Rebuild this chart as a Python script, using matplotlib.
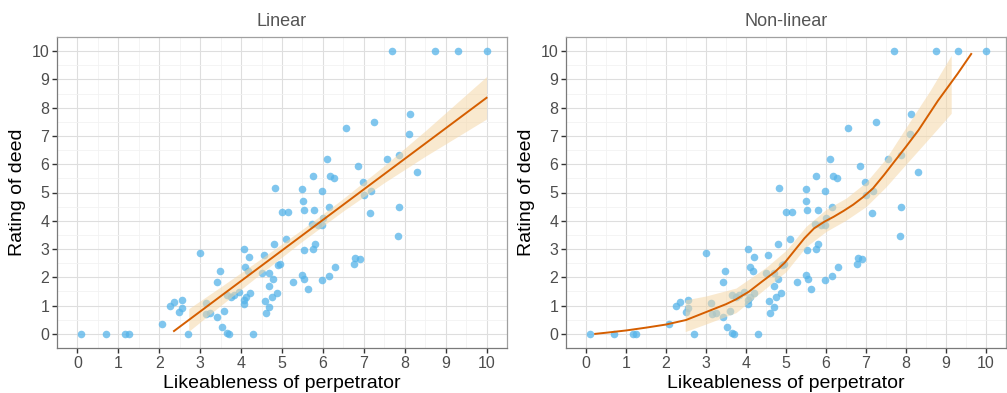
import matplotlib
matplotlib.use('Agg')
import matplotlib.pyplot as plt
from matplotlib.ticker import MultipleLocator

plt.rcParams['font.family'] = ['Liberation Sans', 'DejaVu Sans']

# points (same data in both panels)
like = [0.09, 0.69, 1.17, 1.25, 2.07, 2.25, 2.35, 2.56, 2.49, 2.56, 2.71, 3.0, 3.13, 3.15,
        3.25, 3.42, 3.48, 3.42, 3.53, 3.59, 3.66, 3.7, 3.65, 3.75, 3.83, 3.94, 4.06, 4.19,
        4.09, 4.17, 4.21, 4.11, 4.06, 4.06, 4.3, 4.5, 4.55, 4.58, 4.61, 4.69, 4.69, 4.69,
        4.76, 4.79, 4.87, 4.82, 4.8, 4.89, 4.94, 5.0, 5.15, 5.1,
        7.69, 8.75, 9.29, 10.0, 8.13, 8.1, 7.26, 6.56, 6.1, 7.56, 7.87, 8.29, 6.86, 5.76,
        6.18, 6.27, 6.98, 7.01, 7.18, 5.5, 5.98, 5.51, 5.53, 5.79, 6.14, 7.16, 7.87, 6.01,
        5.73, 5.87, 5.98, 7.84, 5.81, 5.53, 5.76, 6.79, 6.91, 6.77, 6.3, 5.5, 5.54, 5.28,
        5.98, 6.14, 5.63]
rating = [0, 0, 0, 0, 0.35, 0.99, 1.14, 1.2, 0.78, 0.92, 0, 2.85, 1.1, 0.7,
          0.73, 0.59, 2.24, 1.84, 0.23, 0.8, 0.02, 0, 1.36, 1.29, 1.36, 1.48, 3.01, 2.73,
          2.38, 2.21, 1.44, 1.32, 1.06, 1.2, 0, 2.14, 2.78, 1.18, 0.73, 0.96, 1.7, 2.17,
          1.32, 1.93, 1.44, 5.16, 3.18, 2.43, 2.47, 4.32, 4.32, 3.34,
          10, 10, 10, 10, 7.76, 7.08, 7.5, 7.27, 6.2, 6.17, 6.31, 5.74, 5.92, 5.57,
          5.6, 5.5, 5.36, 4.92, 5.05, 5.14, 5.07, 4.7, 4.38, 4.38, 4.5, 4.27, 4.5, 4.11,
          3.9, 3.85, 3.85, 3.46, 3.18, 2.97, 3.0, 2.69, 2.64, 2.47, 2.38, 2.07, 1.95, 1.84,
          1.89, 2.03, 1.59]

# linear fit and its band
lin_x = [2.36, 10.0]
lin_y = [0.1, 8.35]
lin_band_x = [2.72, 3.5, 4.5, 5.5, 6.5, 7.5, 8.5, 9.25, 10.0]
lin_lo = [0.09, 1.00, 2.15, 3.28, 4.35, 5.35, 6.28, 6.94, 7.60]
lin_hi = [0.89, 1.66, 2.67, 3.70, 4.79, 5.95, 7.18, 8.14, 9.10]

# non-linear fit and its band
nl_x = [0.23, 0.5, 1.0, 1.5, 2.0, 2.5, 3.0, 3.5, 3.75, 4.07, 4.4, 4.73, 4.97, 5.22,
        5.46, 5.7, 5.95, 6.19, 6.44, 6.68, 6.93, 7.17, 7.45, 7.74, 8.0, 8.31, 8.8,
        9.29, 9.63]
nl_y = [0.0, 0.04, 0.12, 0.22, 0.33, 0.49, 0.77, 1.05, 1.22, 1.49, 1.85, 2.2, 2.52, 2.96,
        3.38, 3.73, 3.96, 4.14, 4.35, 4.57, 4.84, 5.14, 5.62, 6.15, 6.62, 7.2, 8.25,
        9.2, 9.9]
nl_band_x = [2.48, 3.0, 3.75, 4.5, 5.0, 5.5, 6.0, 6.5, 7.0, 7.5, 8.0, 8.6, 9.13]
nl_lo = [0.08, 0.35, 0.75, 1.62, 2.2, 3.08, 3.62, 4.02, 4.5, 5.2, 6.0, 6.95, 7.8]
nl_hi = [1.2, 1.34, 1.62, 2.35, 2.95, 3.8, 4.4, 4.8, 5.36, 6.2, 7.3, 8.6, 9.85]

fig = plt.figure(figsize=(10.07, 3.93), dpi=100)
ax1 = fig.add_axes([57/1007, 1-348/393, 450/1007, 311/393])
ax2 = fig.add_axes([566/1007, 1-348/393, 440/1007, 311/393])

panels = [(ax1, 'Linear', lin_x, lin_y, lin_band_x, lin_lo, lin_hi),
          (ax2, 'Non-linear', nl_x, nl_y, nl_band_x, nl_lo, nl_hi)]

for ax, title, fx, fy, bx, blo, bhi in panels:
    ax.set_xlim(-0.5, 10.5)
    ax.set_ylim(-0.5, 10.5)
    ax.xaxis.set_major_locator(MultipleLocator(1))
    ax.yaxis.set_major_locator(MultipleLocator(1))
    ax.xaxis.set_minor_locator(MultipleLocator(0.5))
    ax.yaxis.set_minor_locator(MultipleLocator(0.5))
    ax.grid(which='major', color='#DEDEDE', lw=0.8)
    ax.grid(which='minor', color='#F2F2F2', lw=0.6)
    ax.set_axisbelow(True)
    ax.scatter(like, rating, s=30, color='#56B4E9', alpha=0.75, lw=0, zorder=2)
    ax.fill_between(bx, blo, bhi, color='#F5D7A8', alpha=0.55, lw=0, zorder=3)
    ax.plot(fx, fy, color='#D55E00', lw=1.4, zorder=4)
    for s in ax.spines.values():
        s.set_color('#A0A0A0')
        s.set_linewidth(0.9)
    ax.spines['left'].set_color('#7A7A7A')
    ax.spines['bottom'].set_color('#7A7A7A')
    ax.tick_params(which='major', length=3.5, width=1, color='#333333',
                   labelsize=11.5, labelcolor='#4D4D4D', pad=2)
    ax.tick_params(which='minor', length=0)
    ax.set_title(title, fontsize=13, color='#555555', pad=8)
    ax.set_xlabel('Likeableness of perpetrator', fontsize=14, labelpad=3)
    ax.set_ylabel('Rating of deed', fontsize=14, labelpad=4)

fig.savefig('out.png', dpi=100)
